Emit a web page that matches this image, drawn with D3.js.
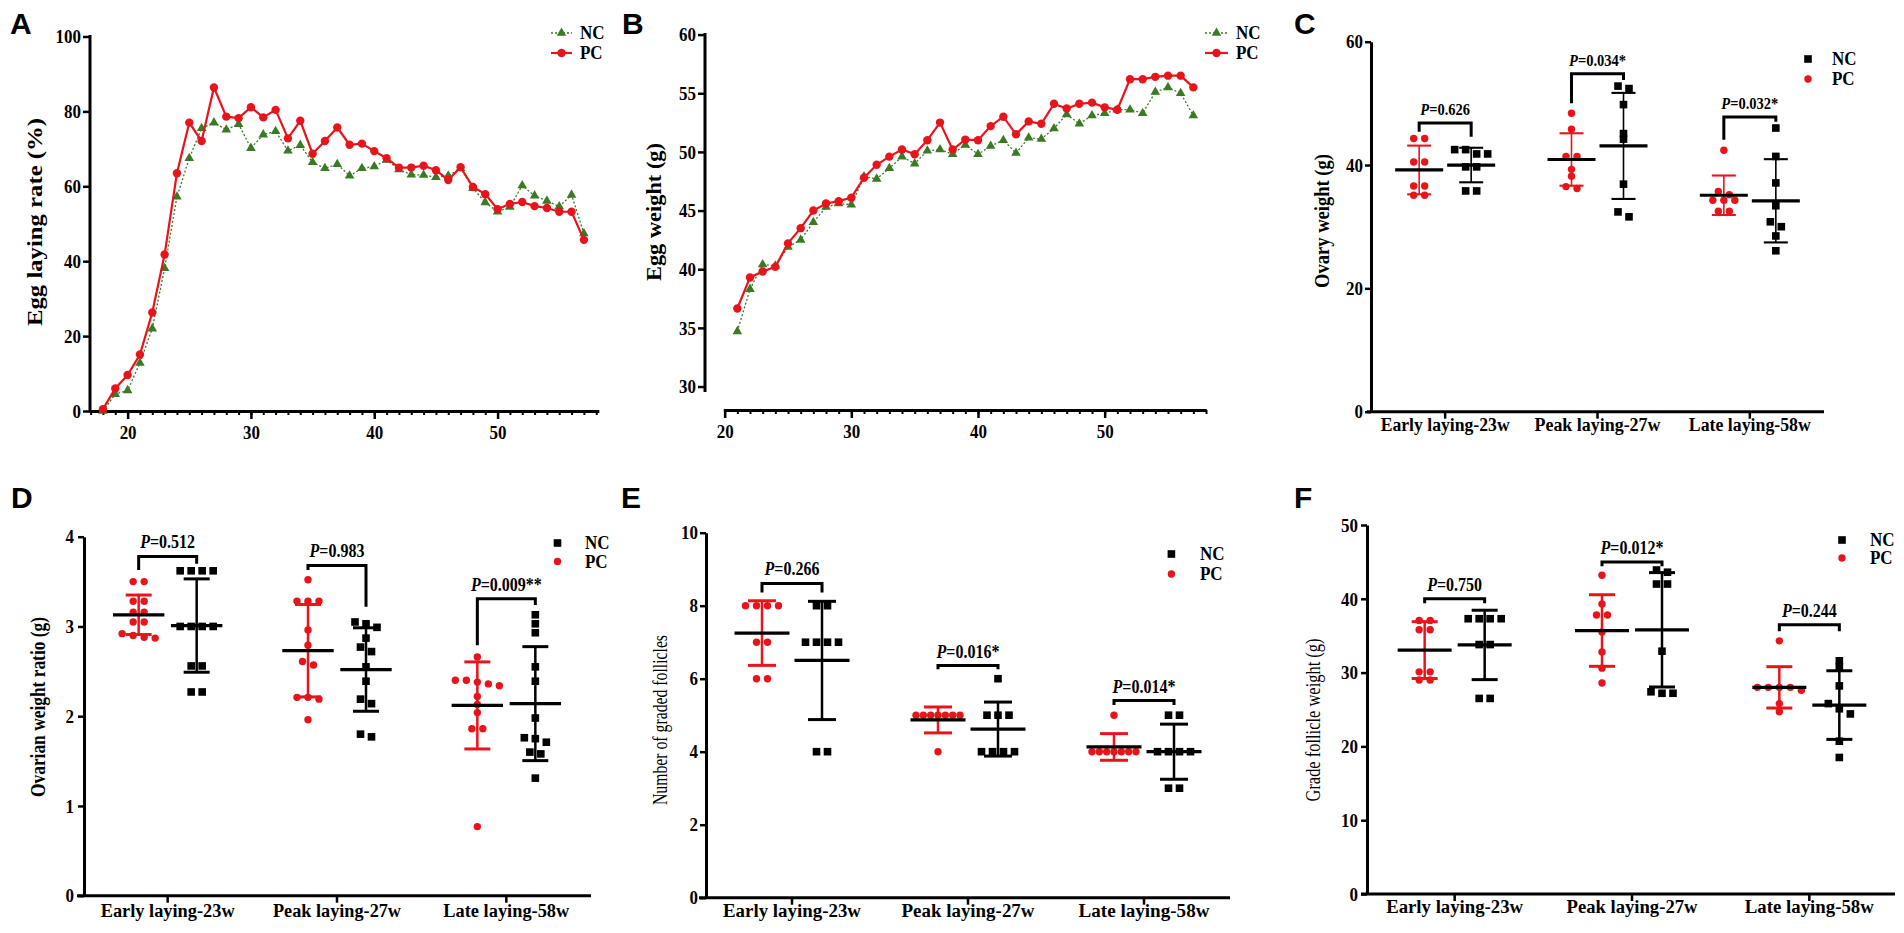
<!DOCTYPE html>
<html><head><meta charset="utf-8">
<script src="https://cdn.jsdelivr.net/npm/d3@7"></script>
<style>body{margin:0;background:#fff}svg{display:block}</style>
</head><body>
<svg id="fig" width="1904" height="933"></svg>
<script>
// ---------------- DATA ----------------
const weeksA = [18,19,20,21,22,23,24,25,26,27,28,29,30,31,32,33,34,35,36,37,38,39,40,41,42,43,44,45,46,47,48,49,50,51,52,53,54,55,56,57];
const layingNC = [0.0,4.5,5.5,12.8,22.0,38.1,57.2,67.5,75.5,77.0,75.1,76.6,70.2,73.8,74.7,69.5,71.0,66.4,64.8,65.9,62.8,64.8,65.3,67.0,64.5,63.1,63.0,62.4,62.8,64.8,59.5,55.7,53.2,54.5,60.2,57.5,56.1,54.6,57.7,47.4];
const layingPC = [0.5,6.0,9.6,15.1,26.3,41.8,63.5,77.0,72.1,86.4,78.6,78.2,81.1,78.4,80.4,72.8,77.5,68.7,72.1,75.7,71.1,71.4,69.4,67.5,65.0,65.0,65.5,64.3,61.7,65.1,59.8,57.9,53.9,55.3,55.8,54.7,54.2,53.2,53.2,45.7];
const weekTicksA = [20,30,40,50];
const layingTicks = [0,20,40,60,80,100];

const weeksB = [21,22,23,24,25,26,27,28,29,30,31,32,33,34,35,36,37,38,39,40,41,42,43,44,45,46,47,48,49,50,51,52,53,54,55,56,57];
const eggWtNC = [34.7,38.3,40.4,40.3,41.9,42.5,44.0,45.3,45.6,45.5,47.9,47.7,48.6,49.6,49.0,50.1,50.2,49.8,50.6,49.8,50.5,51.0,49.9,51.2,51.1,52.0,53.2,52.4,53.1,53.3,53.6,53.6,53.3,55.1,55.5,55.0,53.1];
const eggWtPC = [36.65,39.3,39.8,40.2,42.2,43.5,45.0,45.6,45.8,46.1,47.8,48.9,49.6,50.2,49.8,51.0,52.5,50.2,51.05,51.0,52.2,53.0,51.5,52.6,52.4,54.1,53.7,54.1,54.2,53.8,53.6,56.2,56.2,56.4,56.5,56.5,55.5];
const weekTicksB = [20,30,40,50];
const eggWtTicks = [30,35,40,45,50,55,60];

const groupLabels = ["Early laying-23w","Peak laying-27w","Late laying-58w"];
const seriesNames = ["NC","PC"];

// C: ovary weight (g)
const ovaryPC = [[44.3,44.3,40.5,40.5,36.6,36.6,35.1,35.1],[48.4,45.8,41.4,41.4,39.3,38.2,36.5,36.2],[42.4,35.7,35.2,34.3,34.3,34.3,32.5,32.5]];
const ovaryNC = [[42.5,42.5,41.8,41.8,39.7,39.7,35.8,35.8],[52.8,52.4,49.8,45.1,44.2,36.9,32.4,31.6],[46.0,41.4,37.1,33.4,30.8,30.0,28.5,26.1]];
const ovaryMeanPC = [39.2,40.9,35.1], ovarySdPC = [3.95,4.25,3.2];
const ovaryMeanNC = [40.0,43.1,34.2], ovarySdNC = [2.8,8.6,6.75];
const ovaryP = ["0.626","0.034*","0.032*"];
const ovaryBracket = [[46.8,45.4,44.6],[54.8,50.0,53.8],[47.8,44.1,47.0]];
const ovaryTicks = [0,20,40,60];

// D: ovarian weight ratio
const ratioPC = [[3.50,3.50,3.28,3.28,3.16,3.16,3.05,3.05,2.92,2.90,2.88,2.87],[3.52,3.28,3.28,3.28,2.96,2.79,2.61,2.57,2.21,2.21,2.19,1.96],[2.66,2.40,2.40,2.38,2.36,2.34,2.22,2.13,2.04,1.86,1.86,0.77]];
const ratioNC = [[3.62,3.62,3.62,3.62,3.00,3.00,3.00,3.00,2.56,2.56,2.27,2.27],[3.05,3.03,2.99,2.87,2.77,2.72,2.55,2.39,2.19,2.14,1.80,1.77],[3.13,3.03,2.93,2.55,2.39,1.98,1.76,1.75,1.71,1.60,1.58,1.31]];
const ratioMeanPC = [3.13,2.73,2.12], ratioSdPC = [0.22,0.515,0.485];
const ratioMeanNC = [3.01,2.52,2.14], ratioSdNC = [0.52,0.465,0.635];
const ratioP = ["0.512","0.983","0.009**"];
const ratioBracket = [[3.78,3.63,3.70],[3.68,3.63,3.22],[3.31,2.79,3.24]];
const ratioTicks = [0,1,2,3,4];

// E: number of graded follicles
const follPC = [[8,8,8,8,7,7,6,6],[5,5,5,5,5,5,5,4],[5,4,4,4,4,4,4,4]];
const follNC = [[8,8,7,7,7,7,4,4],[6,5,5,5,4,4,4,4],[5,5,4,4,4,4,3,3]];
const follMeanPC = [7.25,4.87,4.13], follSdPC = [0.885,0.355,0.365];
const follMeanNC = [6.5,4.62,4.0], follSdNC = [1.62,0.74,0.755];
const follP = ["0.266","0.016*","0.014*"];
const follBracket = [[8.61,8.36,8.36],[6.36,6.26,6.26],[5.4,5.28,5.28]];
const follTicks = [0,2,4,6,8,10];

// F: grade follicle weight (g)
const fwPC = [[37.05,37.05,35.8,35.8,30.1,30.1,29.0,29.0],[43.2,39.3,37.8,37.8,35.5,32.8,30.6,28.6],[34.3,28.0,28.0,28.0,28.0,27.6,25.8,24.7]];
const fwNC = [[37.3,37.3,37.3,37.3,33.8,33.8,26.5,26.5],[43.9,43.6,42.0,42.0,32.9,27.4,27.2,27.2],[31.6,30.8,28.2,25.8,25.1,24.4,20.7,18.5]];
const fwMeanPC = [33.05,35.7,28.0], fwSdPC = [3.85,4.85,2.8];
const fwMeanNC = [33.75,35.8,25.6], fwSdNC = [4.7,7.75,4.65];
const fwP = ["0.750","0.012*","0.244"];
const fwBracket = [[40.0,39.4,39.4],[45.0,44.4,44.4],[36.5,35.6,35.6]];
const fwTicks = [0,10,20,30,40,50];

// ---------------- DRAWING ----------------
const SERIF = "'Liberation Serif','Times New Roman',Times,serif";
const SANS = "'Liberation Sans',Arial,sans-serif";
const RED = "#e8141b", GREEN = "#3b7a25", BLACK = "#000";
const TALL = 1.15; // the figure's lettering is vertically stretched
const svg = d3.select("#fig");
svg.append("rect").attr("width",1904).attr("height",933).attr("fill","#fff");

function tallAbout(x, y, k) { return `translate(${x},${y}) scale(1,${k}) translate(${-x},${-y})`; }

function label(g, x, y, str, o = {}) {
  const t = g.append("text").attr("x", x).attr("y", y).text(str)
    .attr("font-family", o.family || SERIF).attr("font-size", o.size || 17)
    .attr("font-weight", o.weight || "bold").attr("fill", "#000")
    .attr("text-anchor", o.anchor || "start")
    .attr("dominant-baseline", o.base || "auto");
  if (o.len) t.attr("textLength", o.len).attr("lengthAdjust", "spacingAndGlyphs");
  if (o.rot) t.attr("transform", `rotate(-90,${x},${y})`);
  else if (o.tall) t.attr("transform", tallAbout(x, y, o.tall));
  return t;
}
function styleAxis(sel) {
  sel.attr("font-family", SERIF).attr("font-size", 17).attr("font-weight", "bold");
  sel.select(".domain").attr("stroke", BLACK).attr("stroke-width", 3);
  sel.selectAll(".tick line").attr("stroke", BLACK).attr("stroke-width", 2.5);
  sel.selectAll(".tick text").attr("fill", BLACK).attr("transform", function () {
    const x = +this.getAttribute("x") || 0, y = +this.getAttribute("y") || 0;
    return tallAbout(x, y, TALL);
  });
}

function linePanel(c) {
  const g = svg.append("g");
  const x = d3.scaleLinear().domain(c.xDom).range(c.xRng);
  const y = d3.scaleLinear().domain(c.yDom).range(c.yRng);
  const gy = g.append("g").attr("transform", `translate(${c.yAxisX},0)`)
    .call(d3.axisLeft(y).tickValues(c.yTicks).tickSize(7).tickPadding(c.yPad).tickSizeOuter(0));
  styleAxis(gy);
  // y-axis line may stop short of the x-axis (offset axes)
  gy.select(".domain").remove();
  gy.append("line").attr("x1", 0).attr("x2", 0).attr("y1", c.yLineBottom).attr("y2", c.yRng[1] - 1.5)
    .attr("stroke", BLACK).attr("stroke-width", 3);
  const ax = c.yRng[0];
  const minor = d3.range(Math.ceil(c.xDom[0]), Math.floor(c.xDom[1]) + 1);
  const gm = g.append("g").attr("transform", `translate(0,${ax})`)
    .call(d3.axisBottom(x).tickValues(minor).tickSize(4).tickFormat("").tickSizeOuter(0));
  styleAxis(gm);
  gm.selectAll(".tick line").attr("stroke-width", 2);
  const gx = g.append("g").attr("transform", `translate(0,${ax})`)
    .call(d3.axisBottom(x).tickValues(c.xTicks).tickSize(8).tickPadding(6).tickSizeOuter(0));
  styleAxis(gx);

  const line = d3.line().x((d, i) => x(c.weeks[i])).y(d => y(d));
  g.append("path").datum(c.nc).attr("d", line).attr("fill", "none")
    .attr("stroke", GREEN).attr("stroke-width", 1.3).attr("stroke-dasharray", "2,2");
  g.selectAll(".tri").data(c.nc).join("path")
    .attr("transform", (d, i) => `translate(${x(c.weeks[i])},${y(d)})`)
    .attr("d", d3.symbol(d3.symbolTriangle, 40)).attr("fill", GREEN);
  g.append("path").datum(c.pc).attr("d", line).attr("fill", "none")
    .attr("stroke", RED).attr("stroke-width", 2.2);
  g.selectAll(".dot").data(c.pc).join("circle")
    .attr("cx", (d, i) => x(c.weeks[i])).attr("cy", d => y(d)).attr("r", 4.2).attr("fill", RED);
  const L = c.legend;
  seriesNames.forEach((nm, k) => {
    const yy = L.y + k * 20;
    const col = k === 0 ? GREEN : RED;
    g.append("line").attr("x1", L.x0).attr("x2", L.x1).attr("y1", yy).attr("y2", yy)
      .attr("stroke", col).attr("stroke-width", k === 0 ? 1.3 : 2.2).attr("stroke-dasharray", k === 0 ? "2,2" : null);
    if (k === 0) g.append("path").attr("transform", `translate(${(L.x0 + L.x1) / 2},${yy})`)
      .attr("d", d3.symbol(d3.symbolTriangle, 40)).attr("fill", GREEN);
    else g.append("circle").attr("cx", (L.x0 + L.x1) / 2).attr("cy", yy).attr("r", 4.2).attr("fill", RED);
    label(g, L.tx, yy, nm, { size: 17, base: "central", tall: TALL });
  });
  label(g, c.title.x, c.title.y, c.title.text, { size: 22, anchor: "middle", base: "central", rot: true, len: c.title.len });
  label(g, c.letter.x, c.letter.y, c.letter.text, { family: SANS, size: 30 });
}

function swarm(vals, y, spacing, maxW) {
  const items = vals.map(v => ({ v, py: y(v), dx: 0 })).sort((a, b) => a.py - b.py);
  const rows = []; let cur = [items[0]];
  for (let k = 1; k < items.length; k++) {
    if (items[k].py - items[k - 1].py < 5.5) cur.push(items[k]);
    else { rows.push(cur); cur = [items[k]]; }
  }
  rows.push(cur);
  rows.forEach(r => {
    const n = r.length, sp = n > 1 ? Math.min(spacing, maxW / (n - 1)) : 0;
    r.forEach((it, j) => it.dx = (j - (n - 1) / 2) * sp);
  });
  return items;
}

function dotPanel(c) {
  const g = svg.append("g");
  const xb = d3.scaleBand().domain(groupLabels).range(c.band);
  const cx = i => xb(groupLabels[i]) + xb.bandwidth() / 2;
  const y = d3.scaleLinear().domain(c.yDom).range(c.yRng);
  const y0 = y(0);
  const gy = g.append("g").attr("transform", `translate(${c.yAxisX},0)`)
    .call(d3.axisLeft(y).tickValues(c.yTicks).tickFormat(d3.format("d")).tickSize(6).tickPadding(c.yPad).tickSizeOuter(0));
  styleAxis(gy);
  g.append("line").attr("x1", c.xLine[0]).attr("x2", c.xLine[1]).attr("y1", y0).attr("y2", y0)
    .attr("stroke", BLACK).attr("stroke-width", 3);
  const gx = g.append("g").attr("transform", `translate(0,${y0})`)
    .call(d3.axisBottom(xb).tickSize(7).tickFormat("").tickSizeOuter(0));
  gx.select(".domain").remove();
  gx.selectAll(".tick line").attr("stroke", BLACK).attr("stroke-width", 2.5);
  groupLabels.forEach((lab, i) => label(g, cx(i), y0 + c.labDy, lab, { size: 16, anchor: "middle", len: c.labLen[i], tall: TALL }));

  groupLabels.forEach((lab, i) => {
    const xp = cx(i) - c.off, xn = cx(i) + c.off;
    swarm(c.pc[i], y, 11, 44).forEach(p => g.append("circle").attr("cx", xp + p.dx).attr("cy", p.py).attr("r", 3.7).attr("fill", RED));
    swarm(c.nc[i], y, 11, 44).forEach(p => g.append("rect").attr("x", xn + p.dx - 3.8).attr("y", p.py - 3.8)
      .attr("width", 7.6).attr("height", 7.6).attr("fill", BLACK));
    [[xp, c.meanPC[i], c.sdPC[i], RED], [xn, c.meanNC[i], c.sdNC[i], BLACK]].forEach(([xx, m, s, col]) => {
      const yt = y(m + s), yb = y(m - s);
      g.append("line").attr("x1", xx).attr("x2", xx).attr("y1", yt).attr("y2", yb).attr("stroke", col).attr("stroke-width", c.sdW);
      [yt, yb].forEach(yy => g.append("line").attr("x1", xx - c.cap).attr("x2", xx + c.cap).attr("y1", yy).attr("y2", yy)
        .attr("stroke", col).attr("stroke-width", c.sdW + 0.5));
      g.append("line").attr("x1", xx - c.meanW).attr("x2", xx + c.meanW).attr("y1", y(m)).attr("y2", y(m))
        .attr("stroke", BLACK).attr("stroke-width", 3.2);
    });
    const [top, lft, rgt] = c.bracket[i];
    g.append("path").attr("d", `M${xp},${y(lft)}V${y(top)}H${xn}V${y(rgt)}`)
      .attr("fill", "none").attr("stroke", BLACK).attr("stroke-width", 3);
    const tx = (xp + xn) / 2, ty = y(top) - 8;
    const t = g.append("text").attr("x", tx).attr("y", ty)
      .attr("text-anchor", "middle").attr("font-family", SERIF).attr("font-weight", "bold")
      .attr("font-size", c.pSize).attr("transform", tallAbout(tx, ty, TALL));
    t.append("tspan").attr("font-style", "italic").text("P");
    t.append("tspan").text("=" + c.p[i]);
  });
  const L = c.legend;
  g.append("rect").attr("x", L.x - 3.8).attr("y", L.y - 3.8).attr("width", 7.6).attr("height", 7.6).attr("fill", BLACK);
  g.append("circle").attr("cx", L.x).attr("cy", L.y + L.dy).attr("r", 3.7).attr("fill", RED);
  label(g, L.tx, L.y, seriesNames[0], { size: 17, base: "central", tall: TALL });
  label(g, L.tx, L.y + L.dy, seriesNames[1], { size: 17, base: "central", tall: TALL });
  label(g, c.title.x, c.title.y, c.title.text, { size: 22, anchor: "middle", base: "central", rot: true,
    len: c.title.len, weight: c.title.weight });
  label(g, c.letter.x, c.letter.y, c.letter.text, { family: SANS, size: 30 });
}

// Panel A
linePanel({
  weeks: weeksA, nc: layingNC, pc: layingPC,
  xDom: [16.95, 58.2], xRng: [90, 598.7], xTicks: weekTicksA,
  yDom: [0, 100], yRng: [411, 36.5], yTicks: layingTicks, yAxisX: 90, yPad: 2, yLineBottom: 412.5,
  legend: { x0: 551, x1: 572, y: 33, tx: 580 },
  title: { x: 34, y: 222, text: "Egg laying rate (%)", len: 208 },
  letter: { x: 10, y: 34, text: "A" }
});
// Panel B
linePanel({
  weeks: weeksB, nc: eggWtNC, pc: eggWtPC,
  xDom: [19.9, 58.0], xRng: [723.4, 1206], xTicks: weekTicksB,
  yDom: [28, 60], yRng: [410, 34.6], yTicks: eggWtTicks, yAxisX: 705, yPad: 2, yLineBottom: 392,
  legend: { x0: 1205, x1: 1228, y: 33, tx: 1236 },
  title: { x: 653, y: 212, text: "Egg weight (g)", len: 138 },
  letter: { x: 622, y: 34, text: "B" }
});
// Panel C
dotPanel({
  pc: ovaryPC, nc: ovaryNC, meanPC: ovaryMeanPC, sdPC: ovarySdPC, meanNC: ovaryMeanNC, sdNC: ovarySdNC,
  p: ovaryP, bracket: ovaryBracket, pSize: 14.5,
  band: [1369, 1826], xLine: [1367, 1824], off: 26,
  yDom: [0, 60], yRng: [411.7, 41.7], yTicks: ovaryTicks, yAxisX: 1371, yPad: 2,
  labDy: 19, labLen: [129, 126, 122],
  meanW: 24, cap: 12, sdW: 1.6,
  legend: { x: 1808, y: 59, dy: 20, tx: 1832 },
  title: { x: 1321, y: 221, text: "Ovary weight (g)", len: 134, weight: "bold" },
  letter: { x: 1294, y: 34, text: "C" }
});
// Panel D
dotPanel({
  pc: ratioPC, nc: ratioNC, meanPC: ratioMeanPC, sdPC: ratioSdPC, meanNC: ratioMeanNC, sdNC: ratioSdNC,
  p: ratioP, bracket: ratioBracket, pSize: 16,
  band: [83, 591], xLine: [77, 591], off: 29,
  yDom: [0, 4], yRng: [895.7, 536.7], yTicks: ratioTicks, yAxisX: 84, yPad: 4,
  labDy: 21, labLen: [134, 128, 126],
  meanW: 25.7, cap: 13, sdW: 2.5,
  legend: { x: 557.5, y: 543, dy: 18.5, tx: 585 },
  title: { x: 37.5, y: 707, text: "Ovarian weight ratio (g)", len: 180, weight: "bold" },
  letter: { x: 11, y: 508, text: "D" }
});
// Panel E
dotPanel({
  pc: follPC, nc: follNC, meanPC: follMeanPC, sdPC: follSdPC, meanNC: follMeanNC, sdNC: follSdNC,
  p: follP, bracket: follBracket, pSize: 16,
  band: [704, 1232], xLine: [699, 1230], off: 30,
  yDom: [0, 10], yRng: [897.7, 532.7], yTicks: follTicks, yAxisX: 706, yPad: 2,
  labDy: 19, labLen: [138, 133, 131],
  meanW: 27.5, cap: 14, sdW: 2.5,
  legend: { x: 1171.4, y: 554, dy: 20, tx: 1200 },
  title: { x: 659, y: 720, text: "Number of graded follicles", len: 170, weight: "normal" },
  letter: { x: 621, y: 508, text: "E" }
});
// Panel F
dotPanel({
  pc: fwPC, nc: fwNC, meanPC: fwMeanPC, sdPC: fwSdPC, meanNC: fwMeanNC, sdNC: fwSdNC,
  p: fwP, bracket: fwBracket, pSize: 16,
  band: [1366, 1898], xLine: [1361, 1895], off: 30,
  yDom: [0, 50], yRng: [894, 525], yTicks: fwTicks, yAxisX: 1367, yPad: 3,
  labDy: 19, labLen: [137, 131, 129],
  meanW: 27, cap: 13, sdW: 2.5,
  legend: { x: 1842, y: 540, dy: 18, tx: 1870 },
  title: { x: 1312, y: 720, text: "Grade follicle weight (g)", len: 163, weight: "normal" },
  letter: { x: 1294, y: 508, text: "F" }
});
</script>
</body></html>
